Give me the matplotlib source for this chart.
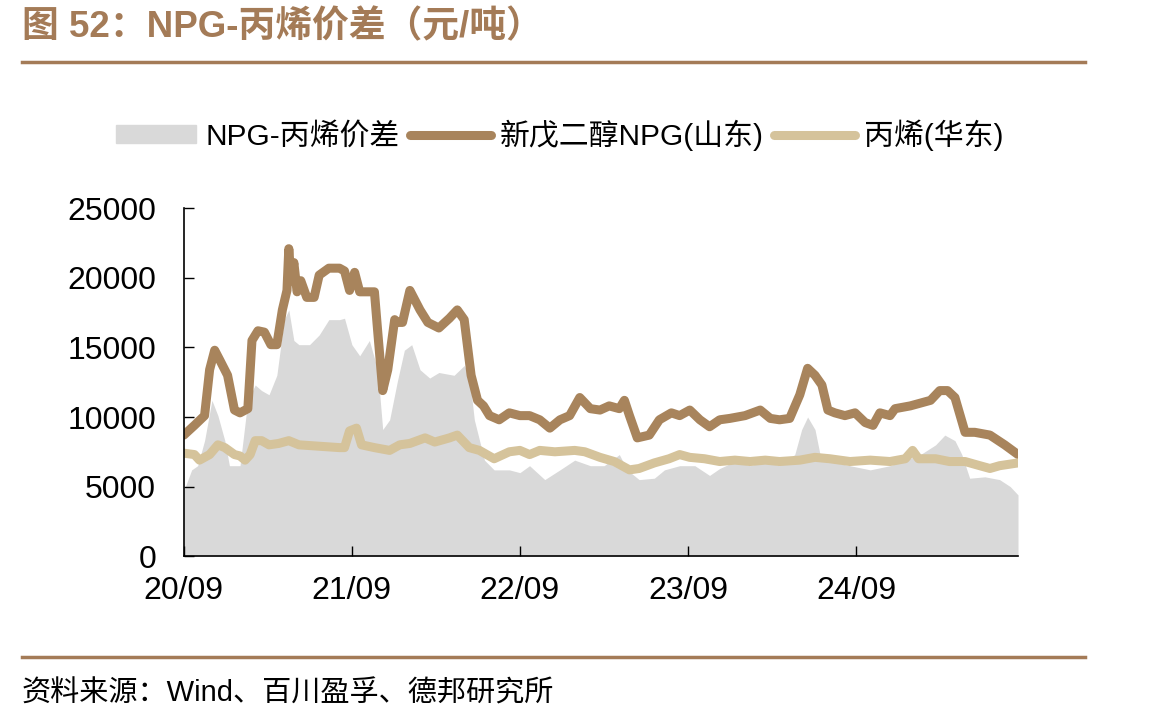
import matplotlib
matplotlib.use('Agg')
import matplotlib.pyplot as plt
from matplotlib.lines import Line2D
import numpy as np
import pandas as pd

plt.rcParams['font.family'] = ['Liberation Sans', 'Noto Sans CJK SC']

# 新戊二醇NPG(山东), 元/吨
npg_dates = ['2020-09-01', '2020-09-24', '2020-10-16', '2020-10-27', '2020-11-07', '2020-11-18',
             '2020-12-05', '2020-12-20', '2021-01-01', '2021-01-18', '2021-01-27', '2021-02-09',
             '2021-02-23', '2021-03-09', '2021-03-22', '2021-04-03', '2021-04-13', '2021-04-17',
             '2021-04-22', '2021-04-28', '2021-05-05', '2021-05-13', '2021-05-26', '2021-06-11',
             '2021-06-22', '2021-07-13', '2021-08-05', '2021-08-16', '2021-08-27', '2021-09-07',
             '2021-09-18', '2021-10-20', '2021-10-27', '2021-11-07', '2021-11-18', '2021-12-03',
             '2021-12-09', '2021-12-20', '2022-01-05', '2022-01-16', '2022-01-27', '2022-02-13',
             '2022-03-09', '2022-04-01', '2022-04-18', '2022-05-03', '2022-05-18', '2022-06-01',
             '2022-06-14', '2022-06-27', '2022-07-18', '2022-08-09', '2022-09-01', '2022-09-22',
             '2022-10-14', '2022-11-05', '2022-11-27', '2022-12-18', '2023-01-09', '2023-02-01',
             '2023-02-22', '2023-03-14', '2023-04-05', '2023-04-16', '2023-04-27', '2023-05-14',
             '2023-06-09', '2023-07-01', '2023-07-27', '2023-08-14', '2023-09-05', '2023-09-27',
             '2023-10-18', '2023-11-09', '2023-12-01', '2024-01-03', '2024-02-05', '2024-02-27',
             '2024-03-18', '2024-04-09', '2024-05-01', '2024-05-18', '2024-06-03', '2024-06-18',
             '2024-07-01', '2024-07-16', '2024-08-07', '2024-08-29', '2024-09-20', '2024-10-07',
             '2024-10-22', '2024-11-13', '2024-11-24', '2024-12-27', '2025-01-18', '2025-02-09',
             '2025-03-01', '2025-03-18', '2025-04-03', '2025-04-25', '2025-05-16', '2025-06-18',
             '2025-07-20', '2025-08-18']
npg_values = [8700, 9400, 10100, 13400, 14800, 14100,
              13000, 10500, 10300, 10600, 15500, 16200,
              16100, 15200, 15200, 17700, 19100, 22100,
              19800, 21100, 19000, 19800, 18600, 18600,
              20200, 20700, 20700, 20500, 19100, 20400,
              19000, 19000, 16200, 11900, 13400, 17000,
              16800, 16800, 19100, 18400, 17700, 16800,
              16400, 17100, 17700, 17000, 13000, 11200,
              10800, 10100, 9800, 10300, 10100, 10100,
              9800, 9200, 9800, 10100, 11400, 10600,
              10500, 10800, 10600, 11200, 10100, 8500,
              8700, 9800, 10300, 10100, 10500, 9800,
              9300, 9800, 9900, 10100, 10500, 9900,
              9800, 9900, 11600, 13500, 13000, 12300,
              10500, 10300, 10100, 10300, 9600, 9400,
              10300, 10100, 10600, 10800, 11000, 11200,
              11900, 11900, 11400, 8900, 8900, 8700,
              8000, 7300]

# 丙烯(华东), 元/吨
pp_dates = ['2020-09-01', '2020-09-24', '2020-10-05', '2020-10-27', '2020-11-14', '2020-11-29',
            '2020-12-20', '2021-01-01', '2021-01-12', '2021-01-23', '2021-02-03', '2021-02-17',
            '2021-03-05', '2021-03-26', '2021-04-17', '2021-05-09', '2021-06-22', '2021-08-05',
            '2021-08-16', '2021-08-27', '2021-09-11', '2021-09-22', '2021-10-20', '2021-11-22',
            '2021-12-14', '2022-01-05', '2022-02-07', '2022-02-28', '2022-04-01', '2022-04-18',
            '2022-05-14', '2022-06-05', '2022-07-07', '2022-08-09', '2022-09-01', '2022-09-22',
            '2022-10-14', '2022-11-16', '2022-12-29', '2023-01-20', '2023-02-22', '2023-03-25',
            '2023-04-27', '2023-05-18', '2023-06-20', '2023-07-22', '2023-08-14', '2023-09-05',
            '2023-10-07', '2023-11-09', '2023-12-12', '2024-01-14', '2024-02-16', '2024-03-18',
            '2024-05-01', '2024-06-03', '2024-07-05', '2024-08-18', '2024-10-01', '2024-11-13',
            '2024-12-16', '2025-01-01', '2025-01-14', '2025-02-20', '2025-03-22', '2025-04-25',
            '2025-05-27', '2025-06-18', '2025-07-09', '2025-08-18']
pp_values = [7400, 7300, 6900, 7300, 8000, 7800,
             7300, 7200, 6900, 7300, 8300, 8300,
             8000, 8100, 8300, 8000, 7900, 7800,
             7800, 9000, 9200, 8000, 7800, 7600,
             8000, 8100, 8500, 8200, 8500, 8700,
             7800, 7600, 7000, 7500, 7600, 7300,
             7600, 7500, 7600, 7500, 7100, 6800,
             6200, 6300, 6700, 7000, 7300, 7100,
             7000, 6800, 6900, 6800, 6900, 6800,
             6900, 7100, 7000, 6800, 6900, 6800,
             7000, 7600, 7000, 7000, 6800, 6800,
             6500, 6300, 6500, 6700]

# NPG-丙烯价差, 元/吨
spread_dates = ['2020-09-01', '2020-09-18', '2020-10-01', '2020-10-16', '2020-11-01', '2020-11-14',
                '2020-11-29', '2020-12-09', '2021-01-01', '2021-01-18', '2021-02-03', '2021-02-17',
                '2021-03-05', '2021-03-22', '2021-04-07', '2021-04-17', '2021-04-28', '2021-05-09',
                '2021-06-01', '2021-06-22', '2021-07-13', '2021-08-05', '2021-08-16', '2021-09-01',
                '2021-09-18', '2021-10-09', '2021-10-27', '2021-11-07', '2021-11-22', '2021-12-09',
                '2021-12-24', '2022-01-09', '2022-01-27', '2022-02-17', '2022-03-09', '2022-04-11',
                '2022-05-03', '2022-05-14', '2022-05-25', '2022-06-16', '2022-07-07', '2022-08-09',
                '2022-09-01', '2022-09-22', '2022-10-25', '2022-11-27', '2022-12-29', '2023-02-01',
                '2023-03-03', '2023-04-05', '2023-04-22', '2023-05-18', '2023-06-20', '2023-07-12',
                '2023-08-14', '2023-09-16', '2023-10-18', '2023-11-09', '2023-12-12', '2024-01-14',
                '2024-02-16', '2024-03-18', '2024-04-20', '2024-05-05', '2024-05-18', '2024-06-03',
                '2024-06-14', '2024-07-05', '2024-08-18', '2024-10-01', '2024-11-13', '2024-12-16',
                '2025-01-18', '2025-02-20', '2025-03-12', '2025-04-03', '2025-04-18', '2025-05-05',
                '2025-06-07', '2025-07-09', '2025-08-01', '2025-08-18']
spread_values = [4700, 6200, 6500, 8300, 11200, 10100,
                 8300, 6500, 6500, 11200, 12300, 11900,
                 11600, 13000, 17000, 17700, 15500, 15200,
                 15200, 15900, 17000, 17000, 17100, 15200,
                 14400, 15500, 13400, 9100, 9800, 12600,
                 14800, 15200, 13400, 12800, 13200, 13000,
                 13700, 13000, 9800, 6900, 6200, 6200,
                 6000, 6500, 5500, 6200, 6900, 6500,
                 6500, 7300, 6200, 5500, 5600, 6200,
                 6500, 6500, 5800, 6300, 6800, 6500,
                 6800, 6500, 7300, 9100, 10000, 9100,
                 7300, 6800, 6500, 6200, 6500, 6900,
                 7300, 8000, 8700, 8300, 7300, 5600,
                 5700, 5500, 5000, 4400]

tick_dates = ['2020-09-01', '2021-09-01', '2022-09-01', '2023-09-01', '2024-09-01']
tick_labels = ['20/09', '21/09', '22/09', '23/09', '24/09']

brown = '#A8845C'
tan = '#D5C39B'
gray = '#D9D9D9'
title_color = '#A47B57'

fig = plt.figure(figsize=(11.49, 7.26), dpi=100)
ax = fig.add_axes([0.160, 0.234, 0.726, 0.479])

ax.fill_between(pd.to_datetime(spread_dates), spread_values, 0, color=gray, lw=0)
ax.plot(pd.to_datetime(npg_dates), npg_values, color=brown, lw=6.5,
        solid_joinstyle='round', solid_capstyle='round')
ax.plot(pd.to_datetime(pp_dates), pp_values, color=tan, lw=6.5,
        solid_joinstyle='round', solid_capstyle='round')

ax.set_xlim(pd.Timestamp('2020-09-01'), pd.Timestamp('2025-08-18'))
ax.set_ylim(0, 25000)
ax.set_yticks(np.arange(0, 25001, 5000))
ax.set_xticks(pd.to_datetime(tick_dates))
ax.set_xticklabels(tick_labels)
ax.tick_params(axis='both', direction='in', length=7, width=1, labelsize=23)
ax.tick_params(axis='y', pad=20)
ax.tick_params(axis='x', pad=14)
for s in ['top', 'right']:
    ax.spines[s].set_visible(False)
for s in ['left', 'bottom']:
    ax.spines[s].set_linewidth(1.2)

handles = [plt.Rectangle((0, 0), 1, 1, color=gray),
           Line2D([], [], color=brown, lw=6.5, solid_capstyle='round'),
           Line2D([], [], color=tan, lw=6.5, solid_capstyle='round')]
labels = ['NPG-丙烯价差', '新戊二醇NPG(山东)', '丙烯(华东)']
fig.legend(handles, labels, loc='center', bbox_to_anchor=(0.487, 0.814), ncol=3,
           frameon=False, fontsize=21.5, handlelength=2.7, handletextpad=0.3,
           columnspacing=0.35, handleheight=0.55)

fig.text(0.019, 0.962, '图 52：NPG-丙烯价差（元/吨）', color=title_color, fontsize=26.5,
         fontweight='bold', va='center', ha='left')
fig.add_artist(Line2D([0.019, 0.944], [0.915, 0.915], color=title_color, lw=2.5))
fig.add_artist(Line2D([0.019, 0.944], [0.095, 0.095], color=title_color, lw=2.5))
fig.text(0.019, 0.045, '资料来源：Wind、百川盈孚、德邦研究所', fontsize=21, va='center', ha='left')

fig.savefig('out.png', dpi=100)
